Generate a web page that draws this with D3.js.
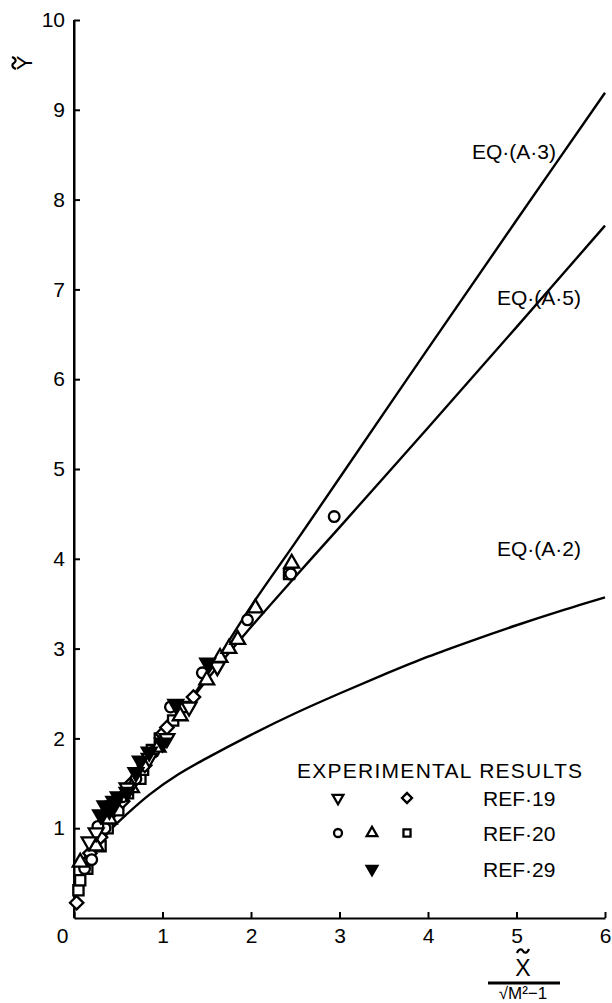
<!DOCTYPE html>
<html lang="en">
<head>
<meta charset="UTF-8">
<script src="https://cdnjs.cloudflare.com/ajax/libs/d3/7.8.5/d3.min.js"></script>
<style>
body { margin: 0; background: white; }
svg { display: block; font-family: "Liberation Sans", Arial, sans-serif; }
.axis path, .axis line { stroke: #000; stroke-width: 2; fill: none; }
.axis text { font-size: 21px; fill: #000; }
.curve { fill: none; stroke: #000; stroke-width: 2.4; }
.mk { stroke: #000; stroke-width: 2.3; }
</style>
</head>
<body>
<script>
// tick values
var xTicks = [0, 1, 2, 3, 4, 5, 6];
var yTicks = [1, 2, 3, 4, 5, 6, 7, 8, 9, 10];

// theory curves
var eqA3 = [[0.03,0.25],[0.1,0.45],[0.2,0.68],[0.35,0.95],[0.5,1.2],[0.75,1.6],[1,1.98],[1.5,2.7],[2,3.47],[2.5,4.18],[3,4.9],[4,6.34],[5,7.77],[6,9.19]];
var eqA5 = [[0.03,0.25],[0.1,0.45],[0.2,0.68],[0.35,0.95],[0.5,1.2],[0.75,1.6],[1,1.98],[1.25,2.33],[1.5,2.65],[2,3.24],[2.5,3.8],[3,4.35],[4,5.46],[5,6.58],[6,7.71]];
var eqA2 = [[0.12,0.5],[0.2,0.66],[0.3,0.84],[0.43,1.0],[0.6,1.16],[0.86,1.38],[1.18,1.6],[1.5,1.78],[2,2.04],[2.5,2.28],[3,2.5],[3.5,2.71],[4,2.91],[4.5,3.09],[5,3.26],[5.5,3.42],[6,3.57]];

// experimental points
var ref19Down = [[0.25,0.95],[0.45,1.25],[0.6,1.45],[0.85,1.78],[1.05,2.0],[1.3,2.35],[1.62,2.8],[0.17,0.85]];
var ref19Diamond = [[0.03,0.17],[0.12,0.6],[0.18,0.72],[0.3,0.9],[0.55,1.3],[0.8,1.7],[1.0,2.05],[1.05,2.12],[1.35,2.46],[0.65,1.5]];
var ref20Circle = [[0.12,0.55],[0.2,0.65],[0.35,1.0],[0.55,1.35],[0.7,1.55],[0.9,1.85],[1.09,2.35],[1.45,2.73],[1.96,3.32],[2.45,3.83],[2.94,4.47],[0.27,1.02]];
var ref20Up = [[0.07,0.62],[0.25,0.8],[0.4,1.1],[0.65,1.45],[0.95,1.9],[1.2,2.25],[1.5,2.65],[1.65,2.9],[1.75,3.0],[1.85,3.1],[2.05,3.45],[2.46,3.95]];
var ref20Square = [[0.05,0.31],[0.07,0.42],[0.15,0.55],[0.3,0.8],[0.38,1.0],[0.5,1.2],[0.61,1.39],[0.75,1.55],[0.78,1.65],[0.88,1.87],[0.97,2.0],[1.12,2.2],[1.22,2.35],[2.43,3.83]];
var ref29Filled = [[0.3,1.15],[0.35,1.25],[0.4,1.2],[0.45,1.3],[0.5,1.35],[0.6,1.4],[0.75,1.75],[0.85,1.85],[1.0,1.95],[1.15,2.38],[1.51,2.84],[0.7,1.62]];

var W = 612, H = 1003;
var x = d3.scaleLinear().domain([0, 6]).range([74, 605]);
var y = d3.scaleLinear().domain([0, 10]).range([918, 20]);

var svg = d3.select("body").append("svg")
    .attr("width", W).attr("height", H);

// axes
var gx = svg.append("g").attr("class", "axis")
    .attr("transform", "translate(0," + y(0) + ")")
    .call(d3.axisBottom(x).tickValues(xTicks).tickFormat(d3.format("d"))
        .tickSizeInner(-6).tickSizeOuter(0).tickPadding(10));
gx.selectAll(".tick text").filter(d => d === 0).attr("dx", -12);

svg.append("g").attr("class", "axis")
    .attr("transform", "translate(" + x(0) + ",0)")
    .call(d3.axisLeft(y).tickValues(yTicks).tickFormat(d3.format("d"))
        .tickSizeInner(-6).tickSizeOuter(0).tickPadding(9));
svg.append("line").attr("x1", x(0)).attr("x2", x(0)).attr("y1", y(0)).attr("y2", y(10))
    .attr("stroke", "#000").attr("stroke-width", 2);

// curves
var line = d3.line().x(d => x(d[0])).y(d => y(d[1])).curve(d3.curveCatmullRom);
[eqA3, eqA5, eqA2].forEach(c => {
  svg.append("path").attr("class", "curve").attr("d", line(c));
});

// curve labels
var lab = [["EQ·(A·3)", 472, 159], ["EQ·(A·5)", 497, 305], ["EQ·(A·2)", 497, 556]];
lab.forEach(l => {
  svg.append("text").attr("x", l[1]).attr("y", l[2]).style("font-size", "21px").text(l[0]);
});

// marker shapes
var sym = {
  down: d3.symbol().type(d3.symbolTriangle),
  up: d3.symbol().type(d3.symbolTriangle),
  circle: d3.symbol().type(d3.symbolCircle),
  square: d3.symbol().type(d3.symbolSquare),
  diamond: d3.symbol().type(d3.symbolSquare)
};
function marker(g, type, filled, size) {
  var s = sym[type].size(size)();
  var p = g.append("path").attr("d", s).attr("class", "mk")
      .attr("fill", filled ? "#000" : "#fff");
  var rot = type === "down" ? 180 : (type === "diamond" ? 45 : 0);
  return [p, rot];
}
function drawSet(data, type, filled, size) {
  data.forEach(d => {
    var r = marker(svg, type, filled, size);
    r[0].attr("transform", "translate(" + x(d[0]) + "," + y(d[1]) + ") rotate(" + r[1] + ")");
  });
}
drawSet(ref20Square, "square", false, 105);
drawSet(ref19Diamond, "diamond", false, 90);
drawSet(ref20Circle, "circle", false, 90);
drawSet(ref20Up, "up", false, 95);
drawSet(ref19Down, "down", false, 95);
drawSet(ref29Filled, "down", true, 95);

// legend
svg.append("text").attr("x", 297).attr("y", 778).style("font-size", "21px")
   .attr("textLength", 285).text("EXPERIMENTAL  RESULTS");
var legendRows = [
  {label: "REF·19", y: 798, items: [["down", false, 338], ["diamond", false, 407]]},
  {label: "REF·20", y: 833, items: [["circle", false, 338], ["up", false, 372], ["square", false, 407]]},
  {label: "REF·29", y: 869, items: [["down", true, 372]]}
];
legendRows.forEach(r => {
  r.items.forEach(it => {
    var m = marker(svg, it[0], it[1], 50);
    m[0].attr("transform", "translate(" + it[2] + "," + r.y + ") rotate(" + m[1] + ")");
  });
  svg.append("text").attr("x", 483).attr("y", r.y + 8).style("font-size", "21px").text(r.label);
});

// tilde accent drawn as a small wave
function tilde(cx, cy, rot) {
  svg.append("path")
     .attr("d", "M-6,2 C-4,-3 -1,-2 0,0 C1,2 4,3 6,-2")
     .attr("transform", "translate(" + cx + "," + cy + ") rotate(" + rot + ")")
     .attr("fill", "none").attr("stroke", "#000").attr("stroke-width", 2.2);
}

// axis titles
svg.append("text").attr("transform", "translate(32,63) rotate(-90)")
   .attr("text-anchor", "middle").style("font-size", "22px").text("Y");
tilde(14, 63, -90);

tilde(523, 951, 0);
svg.append("text").attr("x", 523).attr("y", 976).attr("text-anchor", "middle")
   .style("font-size", "23px").text("X");
svg.append("line").attr("x1", 488).attr("x2", 560).attr("y1", 983).attr("y2", 983)
   .attr("stroke", "#000").attr("stroke-width", 3);
svg.append("text").attr("x", 523).attr("y", 999).attr("text-anchor", "middle")
   .style("font-size", "17px").text("√M²−1");
</script>
</body>
</html>
